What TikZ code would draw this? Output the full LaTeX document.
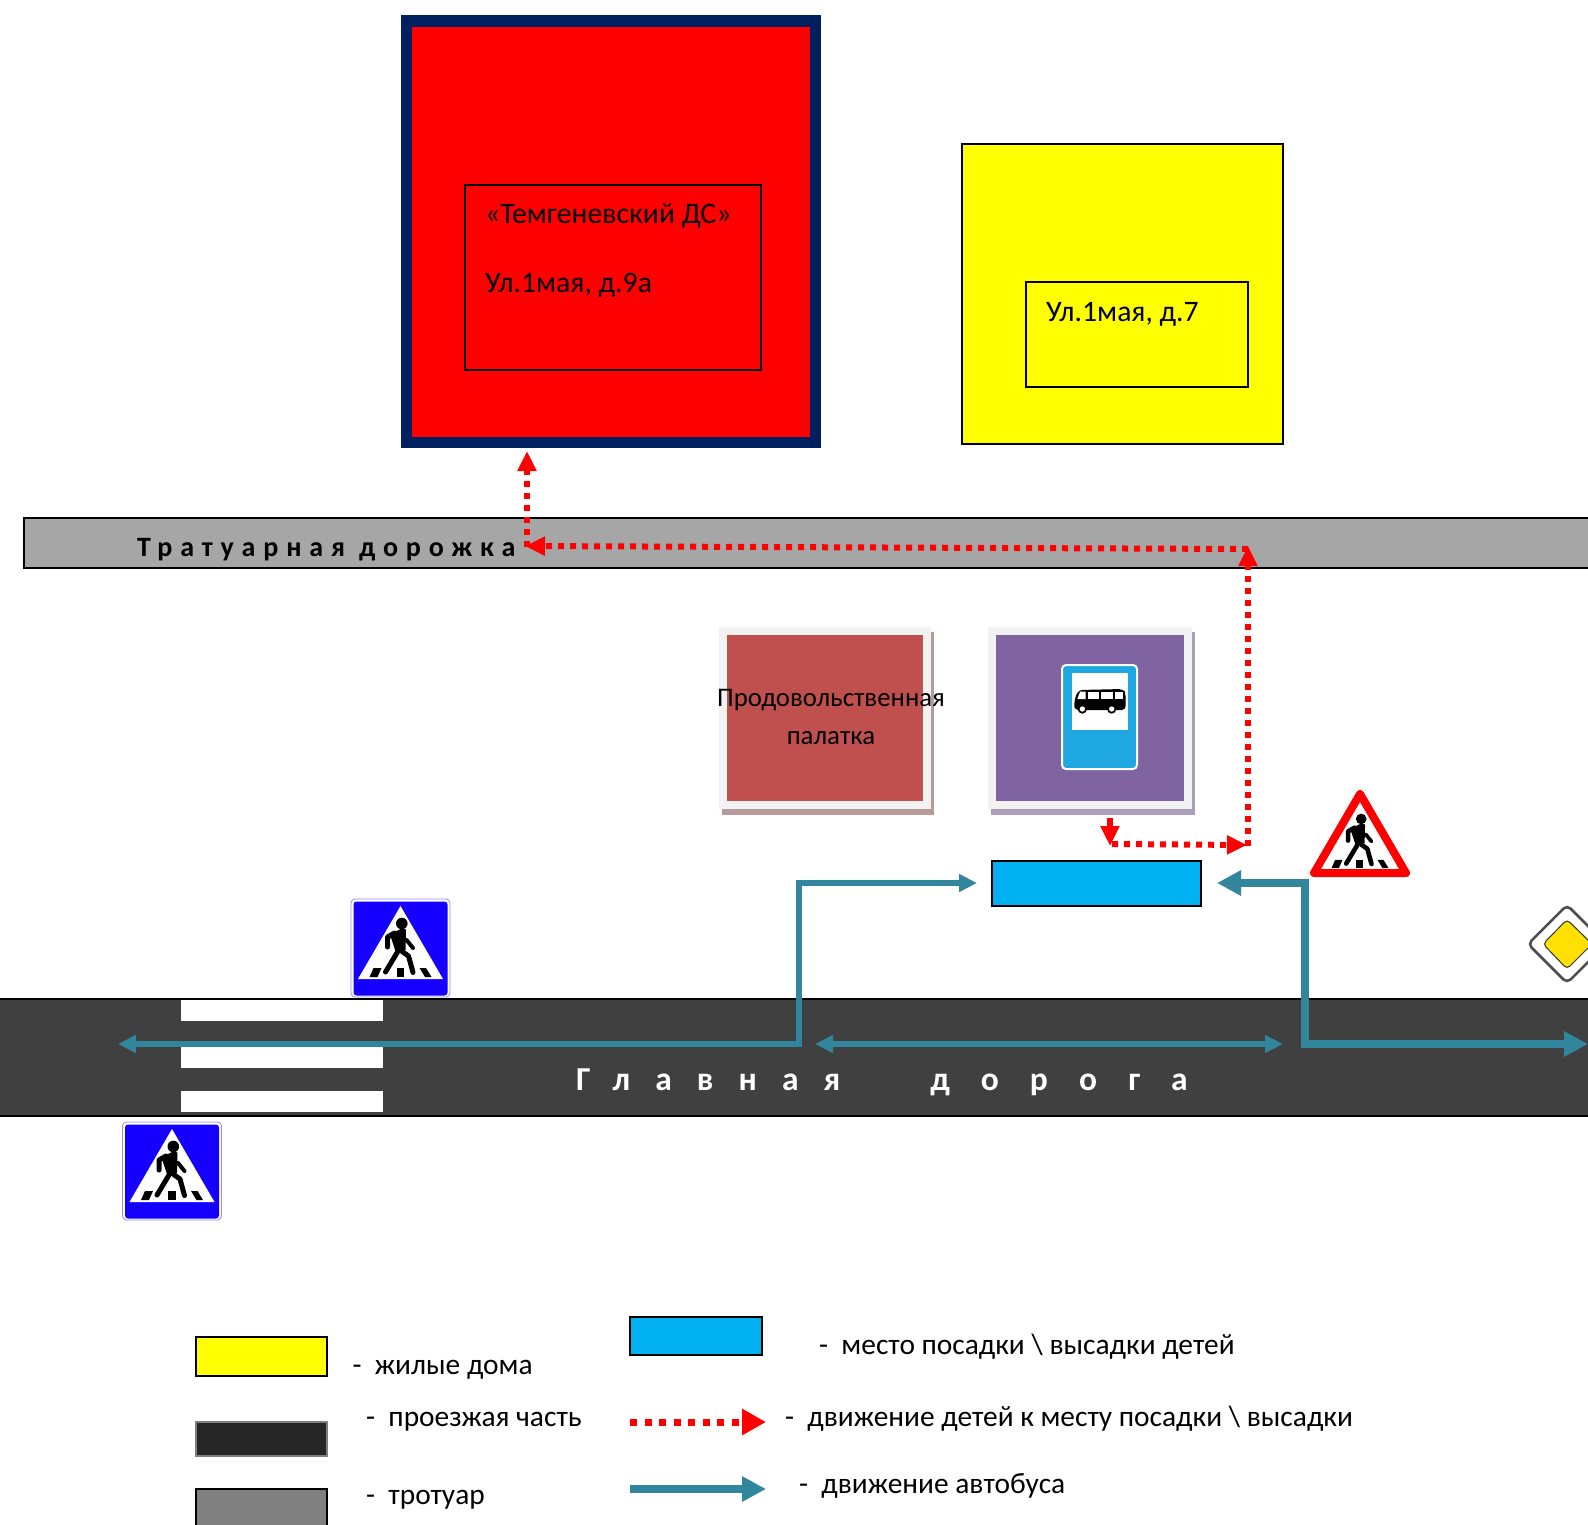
\documentclass[tikz,border=0pt]{standalone}
\usepackage{fontspec}
\setmainfont{Carlito}
\newfontfamily\spacedbold[LetterSpace=28]{Carlito Bold}
\newfontfamily\roadbold[LetterSpace=75]{Carlito Bold}
\newfontfamily\roadboldb[LetterSpace=93]{Carlito Bold}
\usetikzlibrary{arrows.meta,shapes.geometric}
\definecolor{navy}{HTML}{002060}
\definecolor{pureyellow}{HTML}{FFFF00}
\definecolor{purered}{HTML}{FF0000}
\definecolor{cyanbox}{HTML}{00B0F0}
\definecolor{walkgrey}{HTML}{A6A6A6}
\definecolor{roadgrey}{HTML}{404040}
\definecolor{teal2}{HTML}{31859C}
\definecolor{tentred}{HTML}{C0504D}
\definecolor{tentshadow}{HTML}{B89A9A}
\definecolor{purple2}{HTML}{8064A2}
\definecolor{purpleshadow}{HTML}{ABA0B8}
\definecolor{panel}{HTML}{F2F2F2}
\definecolor{signblue}{HTML}{1500FF}
\definecolor{busblue}{HTML}{1EA7E1}
\definecolor{yellowsign}{HTML}{FFE000}
\tikzset{
  label/.style={font=\fontsize{29.7}{34}\selectfont,anchor=west,inner sep=0pt},
  leglabel/.style={font=\fontsize{29.4}{34}\selectfont,anchor=west,inner sep=0pt},
  ctr/.style={font=\fontsize{26.8}{30}\selectfont,anchor=center,inner sep=0pt},
  box/.style={draw=black,line width=2pt},
  reddots/.style={draw=purered,line width=6pt,dash pattern=on 6pt off 6pt,-{Triangle[length=20pt,width=18pt,fill=purered,sep=0pt]}},
  bigteal/.style={draw=teal2,line width=8pt,{Triangle[length=24pt,width=24pt]}-{Triangle[length=24pt,width=24pt]}},
  legteal/.style={draw=teal2,line width=8pt,-{Triangle[length=24pt,width=24pt]}},
  thinteal/.style={draw=teal2,line width=5.5pt,{Triangle[length=18pt,width=17pt]}-{Triangle[length=18pt,width=17pt]}},
}
% pedestrian pictogram, origin at the middle of the triangle base
\newcommand{\pedfig}[3]{%
\begin{scope}[shift={(#1,#2)},scale=#3]
  \fill[black] (1.3,-55.5) circle (5.8);
  \fill[black] (-11,-44.5) -- (1,-50.5) -- (5.5,-49.5) -- (5,-29) -- (-5,-28) -- (-9,-40) -- cycle;
  \draw[black,line cap=round,line join=round,line width=#3*5pt] (-6,-46) -- (-13,-42) -- (-13,-32);
  \draw[black,line cap=round,line join=round,line width=#3*4pt] (6,-39) -- (12.5,-31);
  \draw[black,line cap=round,line join=round,line width=#3*5pt] (-3,-27) -- (-15,-7);
  \draw[black,line cap=round,line join=round,line width=#3*5pt] (1,-28) -- (8,-23) -- (12.5,-6.5);
  \fill[black] (-27,-11) -- (-19,-11) -- (-23,-2) -- (-31,-2) -- cycle;
  \fill[black] (-4,-11) -- (3.5,-11) -- (3.5,-2) -- (-4,-2) -- cycle;
  \fill[black] (19,-11) -- (25.5,-11) -- (31,-2) -- (24.5,-2) -- cycle;
\end{scope}}
% blue pedestrian crossing sign, #1,#2 top left corner
\newcommand{\crosssign}[2]{%
\begin{scope}[shift={(#1,#2)}]
  \draw[draw=signblue!45,fill=white,line width=.8pt,rounded corners=4pt] (0,0) rectangle (99,98);
  \fill[signblue,rounded corners=3pt] (2.5,2.5) rectangle (96.5,96.5);
  \fill[white] (49.5,7) -- (92,80) -- (7,80) -- cycle;
  \pedfig{49.5}{80}{1}
\end{scope}}
\begin{document}
\begin{tikzpicture}[x=1pt,y=-1pt]
\clip (0,0) rectangle (1588,1524);
\useasboundingbox (0,0) rectangle (1588,1524);
\fill[white] (0,0) rectangle (1588,1524);
% buildings
\fill[navy] (401,15) rectangle (821,448);
\fill[purered] (412,27) rectangle (810,437);
\draw[box] (465,184.5) rectangle (761,370);
\node[label] (kg) at (485,216) {«Темгеневский ДС»};
\node[label] (kgaddr) at (485,285) {Ул.1мая, д.9а};
\draw[box,fill=pureyellow] (962,144) rectangle (1283,444);
\draw[box] (1026,281.5) rectangle (1248,387);
\node[label] (house) at (1046,314) {Ул.1мая, д.7};
% sidewalk
\draw[box,fill=walkgrey] (24,518) rectangle (1600,568);
\node[anchor=west,inner sep=0pt,font=\fontsize{28}{30}\spacedbold] (walktext) at (137,550) {Тратуарная дорожка};
% tent
\fill[tentshadow] (722,632) rectangle (934,815);
\fill[panel] (719,627) rectangle (931,809);
\fill[tentred] (727,635) rectangle (923,801);
\node[ctr] (tent1) at (831,700) {Продовольственная};
\node[ctr] (tent2) at (831,738) {палатка};
% bus stop panel
\fill[purpleshadow] (991,632) rectangle (1195,815);
\fill[panel] (988,627) rectangle (1192,809);
\fill[purple2] (996,635) rectangle (1184,801);
\draw[white,fill=busblue,line width=2pt,rounded corners=4pt] (1062,665) rectangle (1137,769);
\fill[white] (1072,673) rectangle (1128,730);
\begin{scope}[shift={(960,610)},scale=1/3]
  \fill[black,rounded corners=4pt] (343,290) -- (343,270) -- (355,240) -- (490,237) -- (497,250) -- (497,300) -- (343,300) -- cycle;
  \fill[white] (352,267) -- (360,245) -- (377,245) -- (377,267) -- cycle;
  \fill[white] (384,245) rectangle (418,267);
  \fill[white] (424,245) rectangle (458,267);
  \fill[white] (464,245) rectangle (490,267);
  \fill[black] (367,297) circle (14);
  \fill[white] (367,297) circle (8);
  \fill[black] (455,297) circle (14);
  \fill[white] (455,297) circle (8);
\end{scope}
% stop rectangle
\draw[box,fill=cyanbox] (992,861) rectangle (1201,906);
% road
\draw[box,fill=roadgrey] (-5,999) rectangle (1600,1116);
\fill[white] (181,1000) rectangle (383,1021);
\fill[white] (181,1045) rectangle (383,1068);
\fill[white] (181,1091) rectangle (383,1112);
\node[anchor=west,inner sep=0pt,text=white,font=\fontsize{33.5}{36}\roadbold] (roadtext) at (576,1082) {Главная\hspace{90pt}{\roadboldb дорога}};
% signs
\crosssign{351}{899}
\crosssign{122.5}{1122}
\draw[draw=purered,fill=white,line width=8pt,line join=round] (1360,794) -- (1406,873) -- (1314,873) -- cycle;
\pedfig{1360}{870}{.92}
\draw[draw=black!70,fill=white,line width=2.5pt,rounded corners=5pt] (1567,905) -- (1606,944) -- (1567,983) -- (1528,944) -- cycle;
\draw[draw=black!80,fill=yellowsign,line width=1pt,rounded corners=4pt] (1567,919.5) -- (1592,944) -- (1567,969) -- (1543,944) -- cycle;
% named connector ends
\coordinate (doorTip) at (527,451);
\coordinate (walkCorner) at (527,547);
\coordinate (walkEnd) at (1248,549);
\coordinate (walkLeft) at (525,546);
\coordinate (stopTop) at (1248,846);
\coordinate (stopTip) at (1247,845);
\coordinate (busStart) at (1110,818);
\coordinate (busDown) at (1110,846);
\coordinate (busTurn) at (1112,844);
\coordinate (upTip) at (1248,546);
\coordinate (tealA) at (118,1044);
\coordinate (tealB) at (799,1044);
\coordinate (tealC) at (799,883);
\coordinate (tealD) at (977,883);
\coordinate (tealE) at (815,1044);
\coordinate (tealF) at (1283,1044);
\coordinate (tealG) at (1217,883);
\coordinate (tealH) at (1305,883);
\coordinate (tealI) at (1305,1044);
\coordinate (tealJ) at (1588,1044);
% child routes
\draw[reddots] (walkCorner) -- (doorTip);
\draw[reddots] (walkEnd) -- (walkLeft);
\draw[reddots] (stopTop) -- (upTip);
\draw[reddots] (busTurn) -- (stopTip);
\draw[purered,line width=6pt,-{Triangle[length=20pt,width=18pt]}] (busStart) -- (busDown);
% bus routes
\draw[thinteal] (tealA) -- (tealB) -- (tealC) -- (tealD);
\draw[thinteal] (tealE) -- (tealF);
\draw[bigteal] (tealG) -- (tealH) -- (tealI) -- (tealJ);
% legend
\draw[box,fill=pureyellow] (195.5,1337) rectangle (327,1375.5);
\node[leglabel] (l1) at (352.5,1370) {-\ \ жилые дома};
\draw[draw=black!50,line width=2pt,fill=black!85] (195.5,1422) rectangle (327,1455.5);
\node[leglabel] (l2) at (366,1422) {-\ \ проезжая часть};
\draw[box,fill=black!50] (195.5,1489) rectangle (327,1540);
\node[leglabel] (l3) at (366,1500) {-\ \ тротуар};
\draw[box,fill=cyanbox] (630,1317) rectangle (762,1355);
\node[leglabel] (l4) at (819,1347) {-\ \ место посадки \textbackslash\ высадки детей};
\coordinate (legRedA) at (630,1422);
\coordinate (legRedB) at (766,1422);
\draw[draw=purered,line width=7pt,dash pattern=on 7pt off 7.5pt,-{Triangle[length=24pt,width=25pt,fill=purered]}] (legRedA) -- (legRedB);
\node[leglabel] (l5) at (785,1419) {-\ \ движение детей к месту посадки \textbackslash\ высадки};
\coordinate (legTealA) at (630,1489);
\coordinate (legTealB) at (766,1489);
\draw[legteal] (legTealA) -- (legTealB);
\node[leglabel] (l6) at (799,1486) {-\ \ движение автобуса};
\end{tikzpicture}
\end{document}
